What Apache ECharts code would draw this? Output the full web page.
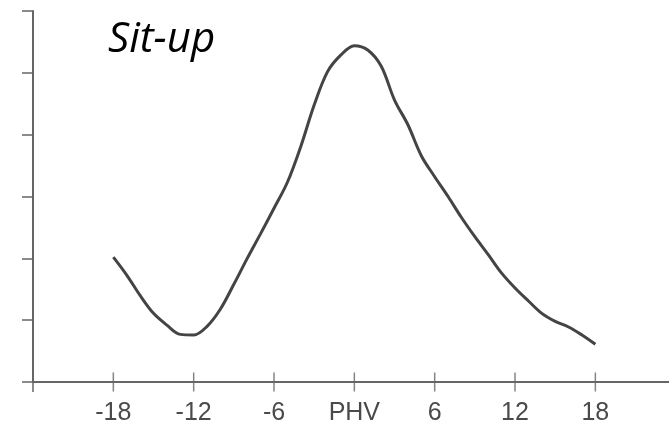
<!DOCTYPE html>
<html>
<head>
<meta charset="utf-8">
<script src="https://cdn.jsdelivr.net/npm/echarts@6/dist/echarts.min.js"></script>
<style>
  html, body { margin: 0; padding: 0; background: #fff; }
  #chart { width: 669px; height: 431px; }
</style>
</head>
<body>
<div id="chart"></div>
<script>
// months relative to peak height velocity
const months = [-18, -17, -16, -15, -14, -13, -12, -11, -10, -9, -8, -7, -6, -5, -4, -3, -2, -1,
  0, 1, 2, 3, 4, 5, 6, 7, 8, 9, 10, 11, 12, 13, 14, 15, 16, 17, 18]
const situp = [2.02, 1.73, 1.40, 1.11, 0.92, 0.77, 0.76, 0.90, 1.18, 1.58, 2.0, 2.40, 2.81, 3.23, 3.81, 4.48, 5.02, 5.29,
  5.44, 5.37, 5.11, 4.56, 4.16, 3.66, 3.32, 3.0, 2.66, 2.35, 2.06, 1.76, 1.52, 1.31, 1.11, 0.98, 0.89, 0.76, 0.61]
const xLabels = [-18, -12, -6, 0, 6, 12, 18]

const axisColor = '#666'

const myChart = echarts.init(document.getElementById('chart'))
myChart.setOption({
  animation: false,
  title: {
    text: 'Sit-up',
    left: 103,
    top: 14,
    textStyle: { fontFamily: 'Open Sans', fontStyle: 'italic', fontWeight: 'normal', fontSize: 42, color: '#000' }
  },
  grid: { left: 33, right: 0, top: 11, bottom: 49 },
  xAxis: {
    type: 'value',
    min: -24,
    max: 23.5,
    interval: 6,
    splitLine: { show: false },
    axisLine: { onZero: false, lineStyle: { color: axisColor, width: 2 } },
    // only the corner tick comes from the axis, the crossing ticks are the scatter below
    axisTick: { customValues: [-24], length: 10, lineStyle: { color: axisColor, width: 1.5 } },
    axisLabel: {
      customValues: xLabels,
      formatter: v => (v === 0 ? 'PHV' : String(v)),
      margin: 19,
      fontFamily: 'Liberation Sans',
      fontSize: 25,
      color: '#4a4a4a'
    }
  },
  yAxis: {
    type: 'value',
    min: 0,
    max: 6,
    interval: 1,
    splitLine: { show: false },
    axisLine: { show: true, onZero: false, lineStyle: { color: axisColor, width: 2 } },
    axisTick: { show: true, length: 11, lineStyle: { color: axisColor, width: 1.5 } },
    axisLabel: { show: false }
  },
  series: [
    {
      type: 'line',
      data: months.map((m, i) => [m, situp[i]]),
      smooth: 0.35,
      symbol: 'none',
      lineStyle: { color: '#444', width: 3 }
    },
    {
      // tick marks that cross the x axis line
      type: 'scatter',
      data: xLabels.map(v => [v, 0]),
      symbol: 'rect',
      symbolSize: [1.5, 19],
      clip: false,
      silent: true,
      itemStyle: { color: axisColor }
    }
  ]
})
</script>
</body>
</html>
